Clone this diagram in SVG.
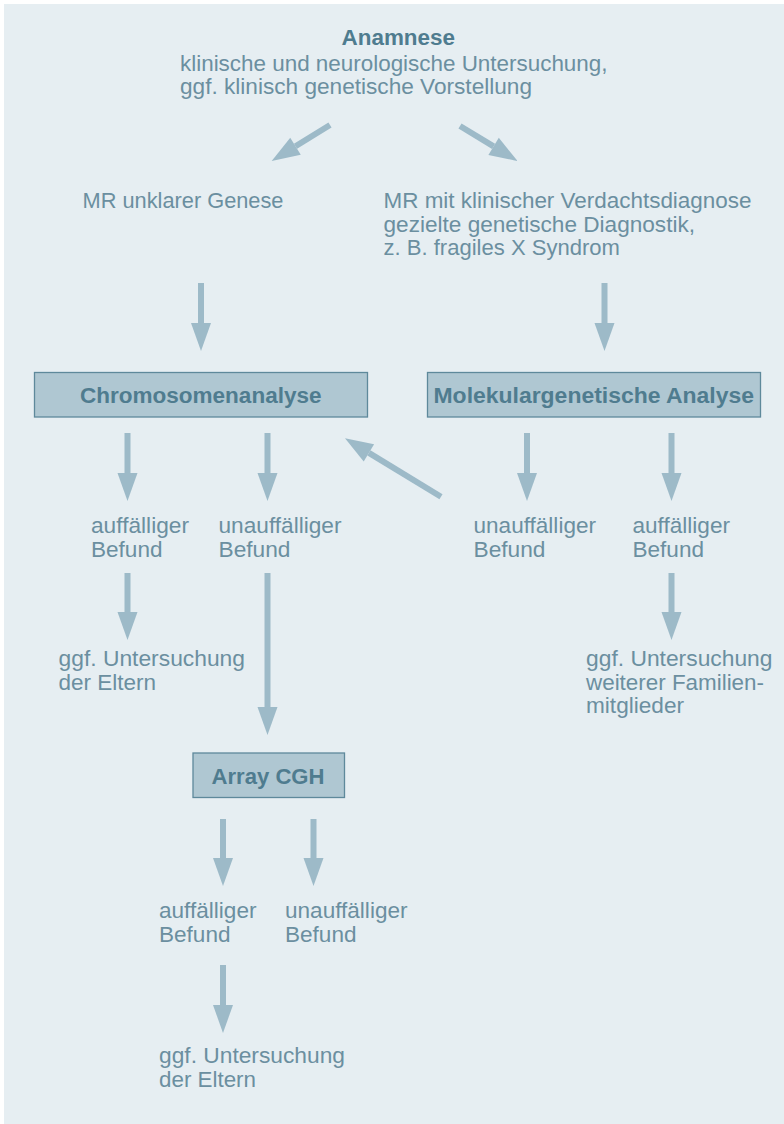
<svg xmlns="http://www.w3.org/2000/svg" width="784" height="1124" viewBox="0 0 784 1124">
<defs>
<marker id="ah" markerUnits="userSpaceOnUse" markerWidth="28" markerHeight="20" refX="0" refY="10" orient="auto" overflow="visible">
<path d="M0,0 L28,10 L0,20 z" fill="#9dbac8"/>
</marker>
<style>
.t{font-family:"Liberation Sans",Arial,sans-serif;font-size:22px;fill:#6b8fa0}
.b{font-family:"Liberation Sans",Arial,sans-serif;font-size:22px;font-weight:bold;fill:#4f7c8f}
.box{fill:#afc7d2;stroke:#5e899b;stroke-width:1.3}
.c{stroke:#9dbac8;stroke-width:6;fill:none;marker-end:url(#ah)}
</style>
</defs>
<rect x="4" y="4" width="780" height="1120" fill="#e6eef2"/>
<g id="connectors">
<path class="c" d="M330,125 L295.5,146.3"/>
<path class="c" d="M460,126 L493.6,146.4"/>
<path class="c" d="M201,283 L201,323"/>
<path class="c" d="M604.5,283 L604.5,323"/>
<path class="c" d="M127.5,433 L127.5,473"/>
<path class="c" d="M267.5,433 L267.5,473"/>
<path class="c" d="M527,433 L527,473"/>
<path class="c" d="M671.5,433 L671.5,473"/>
<path class="c" d="M441,496.7 L368.9,452.9"/>
<path class="c" d="M127.5,573 L127.5,612"/>
<path class="c" d="M267.5,573 L267.5,707"/>
<path class="c" d="M671.5,573 L671.5,612"/>
<path class="c" d="M223,819 L223,858"/>
<path class="c" d="M313.5,819 L313.5,858"/>
<path class="c" d="M223,965 L223,1005"/>
</g>
<g id="anamnese">
<text class="b" x="341.5" y="45" textLength="113.5" lengthAdjust="spacingAndGlyphs">Anamnese</text>
<text class="t" x="180" y="70.5" textLength="427.5" lengthAdjust="spacingAndGlyphs">klinische und neurologische Untersuchung,</text>
<text class="t" x="180" y="93.5" textLength="352" lengthAdjust="spacingAndGlyphs">ggf. klinisch genetische Vorstellung</text>
</g>
<g id="mr-unklar">
<text class="t" x="82.5" y="208" textLength="201" lengthAdjust="spacingAndGlyphs">MR unklarer Genese</text>
</g>
<g id="mr-verdacht">
<text class="t" x="383.5" y="208" textLength="368" lengthAdjust="spacingAndGlyphs">MR mit klinischer Verdachtsdiagnose</text>
<text class="t" x="383.5" y="231.5" textLength="311.5" lengthAdjust="spacingAndGlyphs">gezielte genetische Diagnostik,</text>
<text class="t" x="383.5" y="255" textLength="236.5" lengthAdjust="spacingAndGlyphs">z. B. fragiles X Syndrom</text>
</g>
<g id="chromosomenanalyse">
<rect class="box" x="34.5" y="372.5" width="333" height="44.5"/>
<text class="b" x="80" y="403" textLength="241.5" lengthAdjust="spacingAndGlyphs">Chromosomenanalyse</text>
</g>
<g id="molekular">
<rect class="box" x="427.5" y="372.5" width="333" height="44.5"/>
<text class="b" x="433.5" y="403" textLength="320.5" lengthAdjust="spacingAndGlyphs">Molekulargenetische Analyse</text>
</g>
<g id="chrom-auffaellig">
<text class="t" x="91" y="533" textLength="98" lengthAdjust="spacingAndGlyphs">auffälliger</text>
<text class="t" x="91" y="556.5" textLength="71.5" lengthAdjust="spacingAndGlyphs">Befund</text>
</g>
<g id="chrom-unauffaellig">
<text class="t" x="218.5" y="533" textLength="123" lengthAdjust="spacingAndGlyphs">unauffälliger</text>
<text class="t" x="218.5" y="556.5" textLength="72" lengthAdjust="spacingAndGlyphs">Befund</text>
</g>
<g id="mol-unauffaellig">
<text class="t" x="473.5" y="533" textLength="122.5" lengthAdjust="spacingAndGlyphs">unauffälliger</text>
<text class="t" x="473.5" y="556.5" textLength="72" lengthAdjust="spacingAndGlyphs">Befund</text>
</g>
<g id="mol-auffaellig">
<text class="t" x="632.5" y="533" textLength="97.5" lengthAdjust="spacingAndGlyphs">auffälliger</text>
<text class="t" x="632.5" y="556.5" textLength="71.5" lengthAdjust="spacingAndGlyphs">Befund</text>
</g>
<g id="eltern-1">
<text class="t" x="58.5" y="666" textLength="186.5" lengthAdjust="spacingAndGlyphs">ggf. Untersuchung</text>
<text class="t" x="58.5" y="689.5" textLength="97.5" lengthAdjust="spacingAndGlyphs">der Eltern</text>
</g>
<g id="familie">
<text class="t" x="586" y="666" textLength="186.5" lengthAdjust="spacingAndGlyphs">ggf. Untersuchung</text>
<text class="t" x="586" y="689.5" textLength="178" lengthAdjust="spacingAndGlyphs">weiterer Familien-</text>
<text class="t" x="586" y="713" textLength="98" lengthAdjust="spacingAndGlyphs">mitglieder</text>
</g>
<g id="array-cgh">
<rect class="box" x="193" y="753" width="151.5" height="44.5"/>
<text class="b" x="211.5" y="784" textLength="113" lengthAdjust="spacingAndGlyphs">Array CGH</text>
</g>
<g id="cgh-auffaellig">
<text class="t" x="159" y="918" textLength="97.5" lengthAdjust="spacingAndGlyphs">auffälliger</text>
<text class="t" x="159" y="941.5" textLength="71.5" lengthAdjust="spacingAndGlyphs">Befund</text>
</g>
<g id="cgh-unauffaellig">
<text class="t" x="285" y="918" textLength="122.5" lengthAdjust="spacingAndGlyphs">unauffälliger</text>
<text class="t" x="285" y="941.5" textLength="71.5" lengthAdjust="spacingAndGlyphs">Befund</text>
</g>
<g id="eltern-2">
<text class="t" x="159" y="1062.5" textLength="186" lengthAdjust="spacingAndGlyphs">ggf. Untersuchung</text>
<text class="t" x="159" y="1086.5" textLength="97" lengthAdjust="spacingAndGlyphs">der Eltern</text>
</g>
</svg>
